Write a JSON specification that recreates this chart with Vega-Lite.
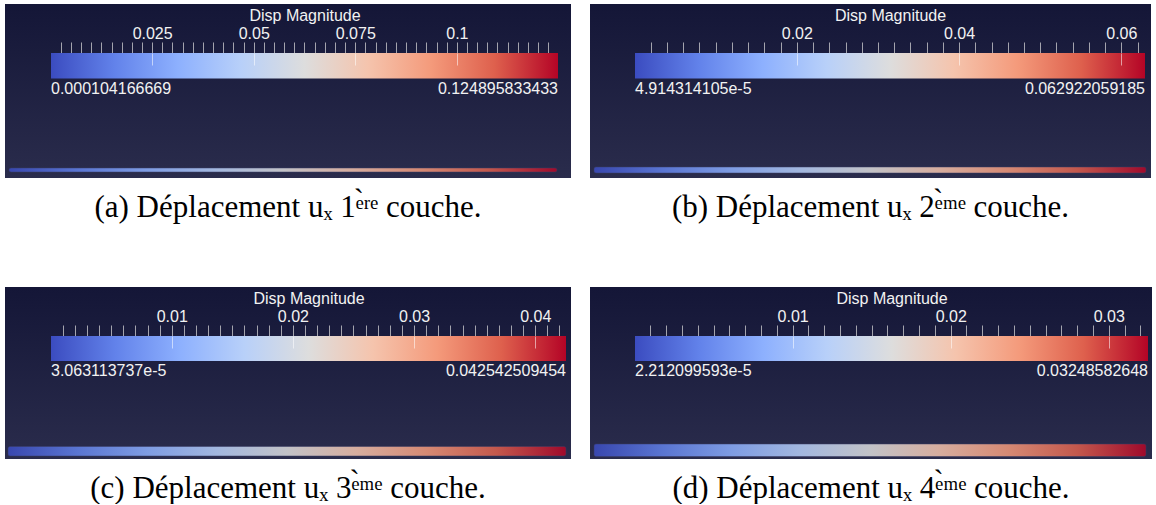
{
  "$schema": "https://vega.github.io/schema/vega-lite/v6.json",
  "background": "white",
  "padding": {"left": 5, "top": 4, "right": 0, "bottom": 0},
  "config": {"view": {"stroke": null}},
  "datasets": {
    "a": [{"min": 0.000104166669, "max": 0.124895833433, "minLabel": "0.000104166669", "maxLabel": "0.124895833433"}],
    "b": [{"min": 0.00004914314105, "max": 0.062922059185, "minLabel": "4.914314105e-5", "maxLabel": "0.062922059185"}],
    "c": [{"min": 0.00003063113737, "max": 0.042542509454, "minLabel": "3.063113737e-5", "maxLabel": "0.042542509454"}],
    "d": [{"min": 0.00002212099593, "max": 0.03248582648, "minLabel": "2.212099593e-5", "maxLabel": "0.03248582648"}]
  },
  "spacing": 64,
  "vconcat": [
    {
      "spacing": 19,
      "hconcat": [
        {
          "width": 566, "height": 174,
          "data": {"name": "a"},
          "view": {"stroke": null, "fill": {"gradient": "linear", "x1": 0, "y1": 0, "x2": 0, "y2": 1, "stops": [{"offset": 0, "color": "#141637"}, {"offset": 1, "color": "#2a2c4c"}]}},
          "title": {"text": "(a) Déplacement uₓ 1\u1d49\u0300\u02b3\u1d49 couche.", "orient": "bottom", "offset": 15, "fontSize": 31, "font": "Liberation Serif", "fontWeight": "normal", "color": "#000000", "anchor": "middle"},
          "resolve": {"axis": {"x": "independent"}},
          "layer": [
            {
              "mark": {"type": "rect", "fill": {"gradient": "linear", "x1": 0, "y1": 0, "x2": 1, "y2": 0, "stops": [{"offset": 0, "color": "#3b4cc0"}, {"offset": 0.125, "color": "#6282ea"}, {"offset": 0.25, "color": "#8db0fe"}, {"offset": 0.375, "color": "#b8d0f9"}, {"offset": 0.5, "color": "#dddddd"}, {"offset": 0.625, "color": "#f5c4ad"}, {"offset": 0.75, "color": "#f49a7b"}, {"offset": 0.875, "color": "#de604d"}, {"offset": 1, "color": "#b40426"}]}},
              "encoding": {
                "x": {"field": "min", "type": "quantitative", "scale": {"domain": [0.000104166669, 0.124895833433], "range": [46, 553], "nice": false, "zero": false},
                  "axis": {"orient": "top", "offset": -49, "values": [0.025, 0.05, 0.075, 0.1], "format": "~g", "tickSize": 11, "tickColor": "#a4a4ae", "tickWidth": 1, "domain": false, "grid": false, "labelColor": "#f2f2f2", "labelFont": "Liberation Sans", "labelFontSize": 16, "labelPadding": 1, "title": "Disp Magnitude", "titleColor": "#f2f2f2", "titleFont": "Liberation Sans", "titleFontSize": 16, "titleFontWeight": "normal", "titlePadding": 2}},
                "x2": {"field": "max"},
                "y": {"datum": 49, "type": "quantitative", "scale": {"domain": [0, 174], "reverse": true, "nice": false, "zero": false}, "axis": null},
                "y2": {"datum": 74.5}
              }
            },
            {
              "mark": {"type": "rect", "cornerRadius": 2, "fillOpacity": 0.85, "stroke": "#3a3c64", "strokeWidth": 0.5, "fill": {"gradient": "linear", "x1": 0, "y1": 0, "x2": 1, "y2": 0, "stops": [{"offset": 0, "color": "#3b4cc0"}, {"offset": 0.125, "color": "#6282ea"}, {"offset": 0.25, "color": "#8db0fe"}, {"offset": 0.375, "color": "#b8d0f9"}, {"offset": 0.5, "color": "#dddddd"}, {"offset": 0.625, "color": "#f5c4ad"}, {"offset": 0.75, "color": "#f49a7b"}, {"offset": 0.875, "color": "#de604d"}, {"offset": 1, "color": "#b40426"}]}},
              "encoding": {
                "x": {"datum": -0.010234, "type": "quantitative",
                  "axis": {"orient": "top", "offset": -49, "values": [0.0025, 0.005, 0.0075, 0.01, 0.0125, 0.015, 0.0175, 0.02, 0.0225, 0.0275, 0.03, 0.0325, 0.035, 0.0375, 0.04, 0.0425, 0.045, 0.0475, 0.0525, 0.055, 0.0575, 0.06, 0.0625, 0.065, 0.0675, 0.07, 0.0725, 0.0775, 0.08, 0.0825, 0.085, 0.0875, 0.09, 0.0925, 0.095, 0.0975, 0.1025, 0.105, 0.1075, 0.11, 0.1125, 0.115, 0.1175, 0.12, 0.1225], "tickSize": 11, "tickColor": "#a4a4ae", "tickWidth": 1, "labels": false, "domain": false, "grid": false, "title": null}},
                "x2": {"datum": 0.124649},
                "y": {"datum": 164, "type": "quantitative", "axis": null},
                "y2": {"datum": 168}
              }
            },
            {
              "mark": {"type": "text", "align": "left", "baseline": "middle", "color": "#f2f2f2", "font": "Liberation Sans", "fontSize": 16},
              "encoding": {
                "x": {"field": "min", "type": "quantitative",
                  "axis": {"orient": "top", "offset": -49, "values": [0.025, 0.05, 0.075, 0.1], "tickSize": -12, "tickColor": "#ffffff", "tickOpacity": 0.55, "tickWidth": 1, "labels": false, "domain": false, "grid": false, "title": null, "zindex": 1}},
                "y": {"datum": 85, "type": "quantitative", "axis": null},
                "text": {"field": "minLabel"}
              }
            },
            {
              "mark": {"type": "text", "align": "right", "baseline": "middle", "color": "#f2f2f2", "font": "Liberation Sans", "fontSize": 16},
              "encoding": {
                "x": {"field": "max", "type": "quantitative", "axis": null},
                "y": {"datum": 85, "type": "quantitative", "axis": null},
                "text": {"field": "maxLabel"}
              }
            }
          ]
        },
        {
          "width": 561, "height": 174,
          "data": {"name": "b"},
          "view": {"stroke": null, "fill": {"gradient": "linear", "x1": 0, "y1": 0, "x2": 0, "y2": 1, "stops": [{"offset": 0, "color": "#141637"}, {"offset": 1, "color": "#2a2c4c"}]}},
          "title": {"text": "(b) Déplacement uₓ 2\u1d49\u0300\u1d50\u1d49 couche.", "orient": "bottom", "offset": 15, "fontSize": 31, "font": "Liberation Serif", "fontWeight": "normal", "color": "#000000", "anchor": "middle"},
          "resolve": {"axis": {"x": "independent"}},
          "layer": [
            {
              "mark": {"type": "rect", "fill": {"gradient": "linear", "x1": 0, "y1": 0, "x2": 1, "y2": 0, "stops": [{"offset": 0, "color": "#3b4cc0"}, {"offset": 0.125, "color": "#6282ea"}, {"offset": 0.25, "color": "#8db0fe"}, {"offset": 0.375, "color": "#b8d0f9"}, {"offset": 0.5, "color": "#dddddd"}, {"offset": 0.625, "color": "#f5c4ad"}, {"offset": 0.75, "color": "#f49a7b"}, {"offset": 0.875, "color": "#de604d"}, {"offset": 1, "color": "#b40426"}]}},
              "encoding": {
                "x": {"field": "min", "type": "quantitative", "scale": {"domain": [0.00004914314105, 0.062922059185], "range": [45, 555], "nice": false, "zero": false},
                  "axis": {"orient": "top", "offset": -49, "values": [0.02, 0.04, 0.06], "format": "~g", "tickSize": 11, "tickColor": "#a4a4ae", "tickWidth": 1, "domain": false, "grid": false, "labelColor": "#f2f2f2", "labelFont": "Liberation Sans", "labelFontSize": 16, "labelPadding": 1, "title": "Disp Magnitude", "titleColor": "#f2f2f2", "titleFont": "Liberation Sans", "titleFontSize": 16, "titleFontWeight": "normal", "titlePadding": 2}},
                "x2": {"field": "max"},
                "y": {"datum": 49, "type": "quantitative", "scale": {"domain": [0, 174], "reverse": true, "nice": false, "zero": false}, "axis": null},
                "y2": {"datum": 74.5}
              }
            },
            {
              "mark": {"type": "rect", "cornerRadius": 2, "fillOpacity": 0.85, "stroke": "#3a3c64", "strokeWidth": 0.5, "fill": {"gradient": "linear", "x1": 0, "y1": 0, "x2": 1, "y2": 0, "stops": [{"offset": 0, "color": "#3b4cc0"}, {"offset": 0.125, "color": "#6282ea"}, {"offset": 0.25, "color": "#8db0fe"}, {"offset": 0.375, "color": "#b8d0f9"}, {"offset": 0.5, "color": "#dddddd"}, {"offset": 0.625, "color": "#f5c4ad"}, {"offset": 0.75, "color": "#f49a7b"}, {"offset": 0.875, "color": "#de604d"}, {"offset": 1, "color": "#b40426"}]}},
              "encoding": {
                "x": {"datum": -0.0050054, "type": "quantitative",
                  "axis": {"orient": "top", "offset": -49, "values": [0.002, 0.004, 0.006, 0.008, 0.01, 0.012, 0.014, 0.016, 0.018, 0.022, 0.024, 0.026, 0.028, 0.03, 0.032, 0.034, 0.036, 0.038, 0.042, 0.044, 0.046, 0.048, 0.05, 0.052, 0.054, 0.056, 0.058, 0.062], "tickSize": 11, "tickColor": "#a4a4ae", "tickWidth": 1, "labels": false, "domain": false, "grid": false, "title": null}},
                "x2": {"datum": 0.0630453},
                "y": {"datum": 163, "type": "quantitative", "axis": null},
                "y2": {"datum": 169}
              }
            },
            {
              "mark": {"type": "text", "align": "left", "baseline": "middle", "color": "#f2f2f2", "font": "Liberation Sans", "fontSize": 16},
              "encoding": {
                "x": {"field": "min", "type": "quantitative",
                  "axis": {"orient": "top", "offset": -49, "values": [0.02, 0.04, 0.06], "tickSize": -12, "tickColor": "#ffffff", "tickOpacity": 0.55, "tickWidth": 1, "labels": false, "domain": false, "grid": false, "title": null, "zindex": 1}},
                "y": {"datum": 85, "type": "quantitative", "axis": null},
                "text": {"field": "minLabel"}
              }
            },
            {
              "mark": {"type": "text", "align": "right", "baseline": "middle", "color": "#f2f2f2", "font": "Liberation Sans", "fontSize": 16},
              "encoding": {
                "x": {"field": "max", "type": "quantitative", "axis": null},
                "y": {"datum": 85, "type": "quantitative", "axis": null},
                "text": {"field": "maxLabel"}
              }
            }
          ]
        }
      ]
    },
    {
      "spacing": 19,
      "hconcat": [
        {
          "width": 566, "height": 172,
          "data": {"name": "c"},
          "view": {"stroke": null, "fill": {"gradient": "linear", "x1": 0, "y1": 0, "x2": 0, "y2": 1, "stops": [{"offset": 0, "color": "#141637"}, {"offset": 1, "color": "#2a2c4c"}]}},
          "title": {"text": "(c) Déplacement uₓ 3\u1d49\u0300\u1d50\u1d49 couche.", "orient": "bottom", "offset": 15, "fontSize": 31, "font": "Liberation Serif", "fontWeight": "normal", "color": "#000000", "anchor": "middle"},
          "resolve": {"axis": {"x": "independent"}},
          "layer": [
            {
              "mark": {"type": "rect", "fill": {"gradient": "linear", "x1": 0, "y1": 0, "x2": 1, "y2": 0, "stops": [{"offset": 0, "color": "#3b4cc0"}, {"offset": 0.125, "color": "#6282ea"}, {"offset": 0.25, "color": "#8db0fe"}, {"offset": 0.375, "color": "#b8d0f9"}, {"offset": 0.5, "color": "#dddddd"}, {"offset": 0.625, "color": "#f5c4ad"}, {"offset": 0.75, "color": "#f49a7b"}, {"offset": 0.875, "color": "#de604d"}, {"offset": 1, "color": "#b40426"}]}},
              "encoding": {
                "x": {"field": "min", "type": "quantitative", "scale": {"domain": [0.00003063113737, 0.042542509454], "range": [46, 561], "nice": false, "zero": false},
                  "axis": {"orient": "top", "offset": -49, "values": [0.01, 0.02, 0.03, 0.04], "format": "~g", "tickSize": 11, "tickColor": "#a4a4ae", "tickWidth": 1, "domain": false, "grid": false, "labelColor": "#f2f2f2", "labelFont": "Liberation Sans", "labelFontSize": 16, "labelPadding": 1, "title": "Disp Magnitude", "titleColor": "#f2f2f2", "titleFont": "Liberation Sans", "titleFontSize": 16, "titleFontWeight": "normal", "titlePadding": 2}},
                "x2": {"field": "max"},
                "y": {"datum": 49, "type": "quantitative", "scale": {"domain": [0, 172], "reverse": true, "nice": false, "zero": false}, "axis": null},
                "y2": {"datum": 74}
              }
            },
            {
              "mark": {"type": "rect", "cornerRadius": 2, "fillOpacity": 0.85, "stroke": "#3a3c64", "strokeWidth": 0.5, "fill": {"gradient": "linear", "x1": 0, "y1": 0, "x2": 1, "y2": 0, "stops": [{"offset": 0, "color": "#3b4cc0"}, {"offset": 0.125, "color": "#6282ea"}, {"offset": 0.25, "color": "#8db0fe"}, {"offset": 0.375, "color": "#b8d0f9"}, {"offset": 0.5, "color": "#dddddd"}, {"offset": 0.625, "color": "#f5c4ad"}, {"offset": 0.75, "color": "#f49a7b"}, {"offset": 0.875, "color": "#de604d"}, {"offset": 1, "color": "#b40426"}]}},
              "encoding": {
                "x": {"datum": -0.0035189, "type": "quantitative",
                  "axis": {"orient": "top", "offset": -49, "values": [0.001, 0.002, 0.003, 0.004, 0.005, 0.006, 0.007, 0.008, 0.009, 0.011, 0.012, 0.013, 0.014, 0.015, 0.016, 0.017, 0.018, 0.019, 0.021, 0.022, 0.023, 0.024, 0.025, 0.026, 0.027, 0.028, 0.029, 0.031, 0.032, 0.033, 0.034, 0.035, 0.036, 0.037, 0.038, 0.039, 0.041, 0.042], "tickSize": 11, "tickColor": "#a4a4ae", "tickWidth": 1, "labels": false, "domain": false, "grid": false, "title": null}},
                "x2": {"datum": 0.0425425},
                "y": {"datum": 159.5, "type": "quantitative", "axis": null},
                "y2": {"datum": 169}
              }
            },
            {
              "mark": {"type": "text", "align": "left", "baseline": "middle", "color": "#f2f2f2", "font": "Liberation Sans", "fontSize": 16},
              "encoding": {
                "x": {"field": "min", "type": "quantitative",
                  "axis": {"orient": "top", "offset": -49, "values": [0.01, 0.02, 0.03, 0.04], "tickSize": -12, "tickColor": "#ffffff", "tickOpacity": 0.55, "tickWidth": 1, "labels": false, "domain": false, "grid": false, "title": null, "zindex": 1}},
                "y": {"datum": 84, "type": "quantitative", "axis": null},
                "text": {"field": "minLabel"}
              }
            },
            {
              "mark": {"type": "text", "align": "right", "baseline": "middle", "color": "#f2f2f2", "font": "Liberation Sans", "fontSize": 16},
              "encoding": {
                "x": {"field": "max", "type": "quantitative", "axis": null},
                "y": {"datum": 84, "type": "quantitative", "axis": null},
                "text": {"field": "maxLabel"}
              }
            }
          ]
        },
        {
          "width": 562, "height": 172,
          "data": {"name": "d"},
          "view": {"stroke": null, "fill": {"gradient": "linear", "x1": 0, "y1": 0, "x2": 0, "y2": 1, "stops": [{"offset": 0, "color": "#141637"}, {"offset": 1, "color": "#2a2c4c"}]}},
          "title": {"text": "(d) Déplacement uₓ 4\u1d49\u0300\u1d50\u1d49 couche.", "orient": "bottom", "offset": 15, "fontSize": 31, "font": "Liberation Serif", "fontWeight": "normal", "color": "#000000", "anchor": "middle"},
          "resolve": {"axis": {"x": "independent"}},
          "layer": [
            {
              "mark": {"type": "rect", "fill": {"gradient": "linear", "x1": 0, "y1": 0, "x2": 1, "y2": 0, "stops": [{"offset": 0, "color": "#3b4cc0"}, {"offset": 0.125, "color": "#6282ea"}, {"offset": 0.25, "color": "#8db0fe"}, {"offset": 0.375, "color": "#b8d0f9"}, {"offset": 0.5, "color": "#dddddd"}, {"offset": 0.625, "color": "#f5c4ad"}, {"offset": 0.75, "color": "#f49a7b"}, {"offset": 0.875, "color": "#de604d"}, {"offset": 1, "color": "#b40426"}]}},
              "encoding": {
                "x": {"field": "min", "type": "quantitative", "scale": {"domain": [0.00002212099593, 0.03248582648], "range": [45, 558], "nice": false, "zero": false},
                  "axis": {"orient": "top", "offset": -49, "values": [0.01, 0.02, 0.03], "format": "~g", "tickSize": 11, "tickColor": "#a4a4ae", "tickWidth": 1, "domain": false, "grid": false, "labelColor": "#f2f2f2", "labelFont": "Liberation Sans", "labelFontSize": 16, "labelPadding": 1, "title": "Disp Magnitude", "titleColor": "#f2f2f2", "titleFont": "Liberation Sans", "titleFontSize": 16, "titleFontWeight": "normal", "titlePadding": 2}},
                "x2": {"field": "max"},
                "y": {"datum": 49, "type": "quantitative", "scale": {"domain": [0, 172], "reverse": true, "nice": false, "zero": false}, "axis": null},
                "y2": {"datum": 74}
              }
            },
            {
              "mark": {"type": "rect", "cornerRadius": 2, "fillOpacity": 0.85, "stroke": "#3a3c64", "strokeWidth": 0.5, "fill": {"gradient": "linear", "x1": 0, "y1": 0, "x2": 1, "y2": 0, "stops": [{"offset": 0, "color": "#3b4cc0"}, {"offset": 0.125, "color": "#6282ea"}, {"offset": 0.25, "color": "#8db0fe"}, {"offset": 0.375, "color": "#b8d0f9"}, {"offset": 0.5, "color": "#dddddd"}, {"offset": 0.625, "color": "#f5c4ad"}, {"offset": 0.75, "color": "#f49a7b"}, {"offset": 0.875, "color": "#de604d"}, {"offset": 1, "color": "#b40426"}]}},
              "encoding": {
                "x": {"datum": -0.0025725, "type": "quantitative",
                  "axis": {"orient": "top", "offset": -49, "values": [0.001, 0.002, 0.003, 0.004, 0.005, 0.006, 0.007, 0.008, 0.009, 0.011, 0.012, 0.013, 0.014, 0.015, 0.016, 0.017, 0.018, 0.019, 0.021, 0.022, 0.023, 0.024, 0.025, 0.026, 0.027, 0.028, 0.029, 0.031, 0.032], "tickSize": 11, "tickColor": "#a4a4ae", "tickWidth": 1, "labels": false, "domain": false, "grid": false, "title": null}},
                "x2": {"datum": 0.0323592},
                "y": {"datum": 157, "type": "quantitative", "axis": null},
                "y2": {"datum": 169.5}
              }
            },
            {
              "mark": {"type": "text", "align": "left", "baseline": "middle", "color": "#f2f2f2", "font": "Liberation Sans", "fontSize": 16},
              "encoding": {
                "x": {"field": "min", "type": "quantitative",
                  "axis": {"orient": "top", "offset": -49, "values": [0.01, 0.02, 0.03], "tickSize": -12, "tickColor": "#ffffff", "tickOpacity": 0.55, "tickWidth": 1, "labels": false, "domain": false, "grid": false, "title": null, "zindex": 1}},
                "y": {"datum": 84, "type": "quantitative", "axis": null},
                "text": {"field": "minLabel"}
              }
            },
            {
              "mark": {"type": "text", "align": "right", "baseline": "middle", "color": "#f2f2f2", "font": "Liberation Sans", "fontSize": 16},
              "encoding": {
                "x": {"field": "max", "type": "quantitative", "axis": null},
                "y": {"datum": 84, "type": "quantitative", "axis": null},
                "text": {"field": "maxLabel"}
              }
            }
          ]
        }
      ]
    }
  ]
}
